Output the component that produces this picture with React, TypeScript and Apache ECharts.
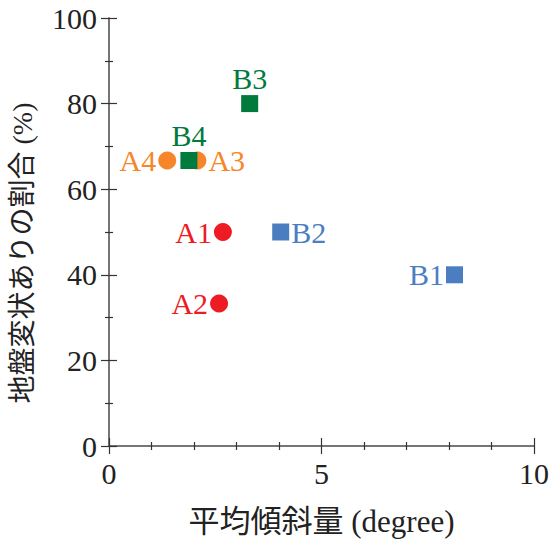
import React, { useEffect, useRef } from "react";
import * as echarts from "echarts";

const redNames = ["A1", "A2"];
const redX = [2.68, 2.59];
const redY = [50, 33.3];
const redPos = ["left", "left"];

const orangeNames = ["A3", "A4"];
const orangeX = [2.08, 1.37];
const orangeY = [66.7, 66.7];
const orangePos = ["right", "left"];

const blueNames = ["B1", "B2"];
const blueX = [8.13, 4.04];
const blueY = [40, 50];
const bluePos = ["left", "right"];

const greenNames = ["B3", "B4"];
const greenX = [3.31, 1.88];
const greenY = [80, 66.7];
const greenPos = ["top", "top"];

const SERIF = "'Liberation Serif', 'Times New Roman', 'Noto Sans CJK JP', serif";

function makeSeries(names: string[], xs: number[], ys: number[], pos: string[], color: string, symbol: string) {
  return {
    type: "scatter",
    symbol,
    symbolSize: symbol === "rect" ? 17 : 18,
    itemStyle: { color, opacity: 1 },
    label: {
      show: true,
      formatter: "{b}",
      color,
      fontFamily: SERIF,
      fontSize: 30,
      distance: 2,
    },
    data: names.map((n, i) => ({
      name: n,
      value: [xs[i], ys[i]],
      label: { position: pos[i] },
    })),
  };
}

export default function App() {
  const ref = useRef<HTMLDivElement>(null);
  useEffect(() => {
    const chart = echarts.init(ref.current!, undefined, { renderer: "svg" });
    const axisLine = { show: true, lineStyle: { color: "#6d6d6d", width: 1.5 } };
    const tick = { show: true, inside: true, length: 8, lineStyle: { color: "#333", width: 1.2 } };
    const minor = { show: true, length: 4, lineStyle: { color: "#333", width: 1.2 } };
    chart.setOption({
      animation: false,
      grid: { left: 106, right: 24, top: 18, bottom: 94 },
      xAxis: [
        {
          type: "value",
          min: 0,
          max: 10,
          interval: 5,
          position: "bottom",
          axisLine,
          axisTick: tick,
          minorTick: { ...minor, splitNumber: 5 },
          splitLine: { show: false },
          axisLabel: { color: "#222", fontFamily: SERIF, fontSize: 30, margin: 12 },
          name: "平均傾斜量 (degree)",
          nameLocation: "middle",
          nameGap: 60,
          nameTextStyle: { color: "#222", fontFamily: SERIF, fontSize: 31 },
        },
        {
          type: "value",
          min: 0,
          max: 10,
          interval: 5,
          position: "top",
          axisLine,
          axisTick: tick,
          minorTick: { ...minor, splitNumber: 5 },
          splitLine: { show: false },
          axisLabel: { show: false },
        },
      ],
      yAxis: [
        {
          type: "value",
          min: 0,
          max: 100,
          interval: 20,
          position: "left",
          axisLine,
          axisTick: tick,
          minorTick: { ...minor, splitNumber: 2 },
          splitLine: { show: false },
          axisLabel: { color: "#222", fontFamily: SERIF, fontSize: 30, margin: 12 },
          name: "地盤変状ありの割合 (%)",
          nameLocation: "middle",
          nameGap: 73,
          nameTextStyle: { color: "#222", fontFamily: SERIF, fontSize: 28, padding: [0, 42, 0, 0] },
        },
        {
          type: "value",
          min: 0,
          max: 100,
          interval: 20,
          position: "right",
          axisLine,
          axisTick: tick,
          minorTick: { ...minor, splitNumber: 2 },
          splitLine: { show: false },
          axisLabel: { show: false },
        },
      ],
      series: [
        makeSeries(redNames, redX, redY, redPos, "#ED1C24", "circle"),
        makeSeries(orangeNames, orangeX, orangeY, orangePos, "#F7862A", "circle"),
        makeSeries(blueNames, blueX, blueY, bluePos, "#4A7EC1", "rect"),
        makeSeries(greenNames, greenX, greenY, greenPos, "#007A3D", "rect"),
      ],
    });
    return () => chart.dispose();
  }, []);
  return <div ref={ref} style={{ width: 558, height: 542, position: "absolute", left: 0, top: 0 }} />;
}
